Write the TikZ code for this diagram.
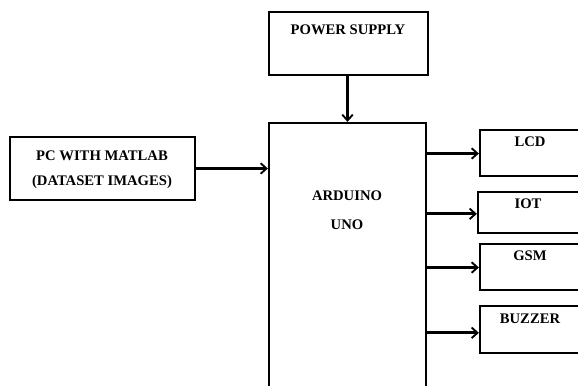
\documentclass[tikz,border=0pt]{standalone}
\usepackage{fontspec}
\setmainfont{Liberation Serif}
\usetikzlibrary{arrows.meta}

\tikzset{
  blk/.style={draw, line width=1.9pt, inner sep=0pt},
  lbl/.style={font=\fontsize{12.5}{21}\selectfont\bfseries, align=center, inner sep=0pt},
  arr/.style={-{Straight Barb[length=5pt,width=9pt,line width=1.6pt]}, line width=2.3pt}
}

\begin{document}
\begin{tikzpicture}[x=0.03cm,y=-0.03cm]
        \useasboundingbox (0,0) rectangle (578,385);
        \clip (0,0) rectangle (578,385);
        % blocks
        \node[blk,minimum width=4.77cm,minimum height=1.89cm] (ps) at (348.5,43.5){};
        \node[blk,minimum width=4.71cm,minimum height=8.31cm] (ard) at (347.5,261.5){};
        \node[blk,minimum width=5.55cm,minimum height=1.89cm] (pc) at (102.5,168.5){};
        \node[blk,minimum width=3.6cm,minimum height=1.38cm] (lcd) at (540,153){};
        \node[blk,minimum width=3.66cm,minimum height=1.23cm] (iot) at (539,212.5){};
        \node[blk,minimum width=3.6cm,minimum height=1.38cm] (gsm) at (540,267){};
        \node[blk,minimum width=3.6cm,minimum height=1.41cm] (buz) at (540,329.5){};
        % texts
        \node[lbl] (pstxt) at (348,30){POWER SUPPLY};
        \node[lbl,font=\fontsize{12.5}{25}\selectfont\bfseries] (ardtxt) at (347,210){ARDUINO\\UNO};
        \node[lbl] (pctxt) at (102,170){PC WITH MATLAB\\(DATASET IMAGES)};
        \node[lbl] (lcdtxt) at (530,142){LCD};
        \node[lbl] (iottxt) at (528,204){IOT};
        \node[lbl] (gsmtxt) at (530,256){GSM};
        \node[lbl] (buztxt) at (530,319){BUZZER};
        % links
        \draw[arr] ([xshift=-0.03cm]ps.south) -- ([xshift=-0.03cm]ps.south |- ard.north);
        \draw[arr] (pc.east) -- (pc.east -| ard.west);
        \draw[arr] ([yshift=-0.015cm]lcd.west -| ard.east) -- ([yshift=-0.015cm]lcd.west);
        \draw[arr] ([yshift=-0.04cm]iot.west -| ard.east) -- ([yshift=-0.04cm]iot.west);
        \draw[arr] ([yshift=-0.015cm]gsm.west -| ard.east) -- ([yshift=-0.015cm]gsm.west);
        \draw[arr] ([yshift=-0.1cm]buz.west -| ard.east) -- ([yshift=-0.1cm]buz.west);
      \end{tikzpicture}
\end{document}
